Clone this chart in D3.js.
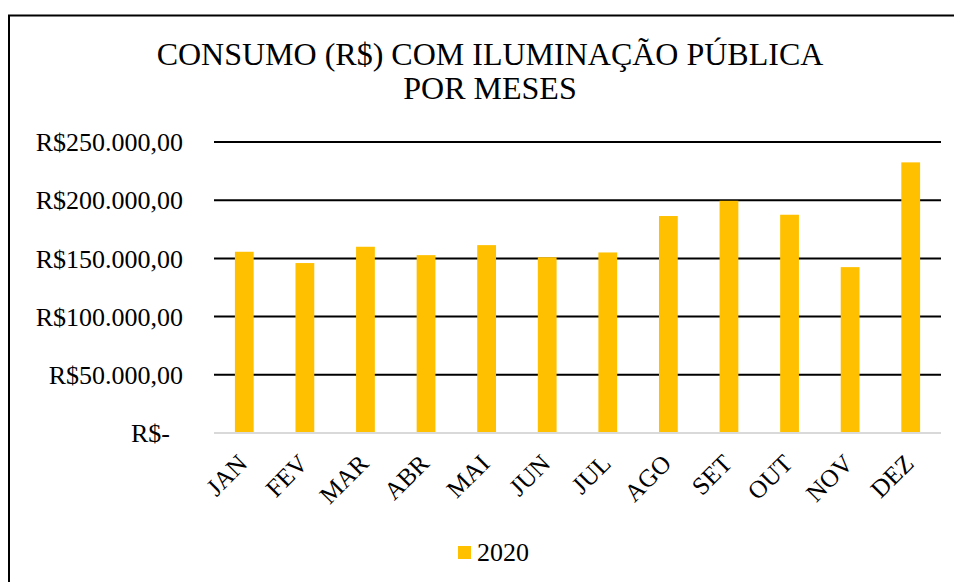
<!DOCTYPE html>
<html><head><meta charset="utf-8">
<script src="https://cdn.jsdelivr.net/npm/d3@7"></script>
<style>html,body{margin:0;padding:0;background:#fff;}</style>
</head><body>
<svg id="c" width="954" height="582" font-family="'Liberation Serif', 'DejaVu Serif', serif"></svg>
<script>
const months = ["JAN","FEV","MAR","ABR","MAI","JUN","JUL","AGO","SET","OUT","NOV","DEZ"];
const values2020 = [155700,146000,160000,152800,161400,151000,155100,186400,199500,187500,142500,232500];
const yTicks = [0,50000,100000,150000,200000,250000];
const yTickLabels = ["R$-","R$50.000,00","R$100.000,00","R$150.000,00","R$200.000,00","R$250.000,00"];
const seriesName = "2020";
const titleLines = ["CONSUMO (R$) COM ILUMINAÇÃO PÚBLICA","POR MESES"];

const FONT = "Liberation Serif";
const svg = d3.select("#c");
const barColor = "#ffc000";

// chart border
svg.append("rect").attr("x",9).attr("y",15.5).attr("width",1000).attr("height",1000)
  .attr("fill","none").attr("stroke","#000").attr("stroke-width",2);

const x = d3.scaleBand().domain(months).range([214,941]).paddingInner(0.69).paddingOuter(0.345);
const y = d3.scaleLinear().domain([0,250000]).range([433,142]);

// gridlines
svg.append("g").selectAll("line").data(yTicks.filter(d=>d>0)).join("line")
  .attr("x1",214).attr("x2",941).attr("y1",d=>y(d)).attr("y2",d=>y(d))
  .attr("stroke","#000").attr("stroke-width",2);

// bars
svg.append("g").selectAll("rect").data(values2020).join("rect")
  .attr("x",(d,i)=>x(months[i])).attr("width",x.bandwidth())
  .attr("y",d=>y(d)).attr("height",d=>y(0)-y(d)).attr("fill",barColor);

// baseline
svg.append("line").attr("x1",214).attr("x2",941).attr("y1",y(0)).attr("y2",y(0))
  .attr("stroke","#d9d9d9").attr("stroke-width",2);

// y labels
svg.append("g").selectAll("text").data(yTicks).join("text")
  .attr("font-family",FONT)
  .attr("x",(d,i)=> d===0 ? 170 : 183).attr("y",d=>y(d)).attr("dy","0.35em")
  .attr("text-anchor","end").attr("font-size",26).attr("fill","#000")
  .text((d,i)=>yTickLabels[i]);

// x labels
svg.append("g").selectAll("text").data(months).join("text")
  .attr("font-family",FONT)
  .attr("transform",d=>`translate(${x(d)+x.bandwidth()/2+4.5},465) rotate(-45)`)
  .attr("text-anchor","end").attr("font-size",25).attr("fill","#000").text(d=>d);

// title
svg.append("g").selectAll("text").data(titleLines).join("text")
  .attr("font-family",FONT)
  .attr("x",490).attr("y",(d,i)=>65+i*34).attr("text-anchor","middle")
  .attr("font-size",32).attr("fill","#000").text(d=>d);

// legend
svg.append("rect").attr("x",458).attr("y",546).attr("width",13).attr("height",13).attr("fill",barColor);
svg.append("text").attr("font-family",FONT).attr("x",477).attr("y",561).attr("font-size",26).attr("fill","#000").text(seriesName);
</script>
</body></html>
